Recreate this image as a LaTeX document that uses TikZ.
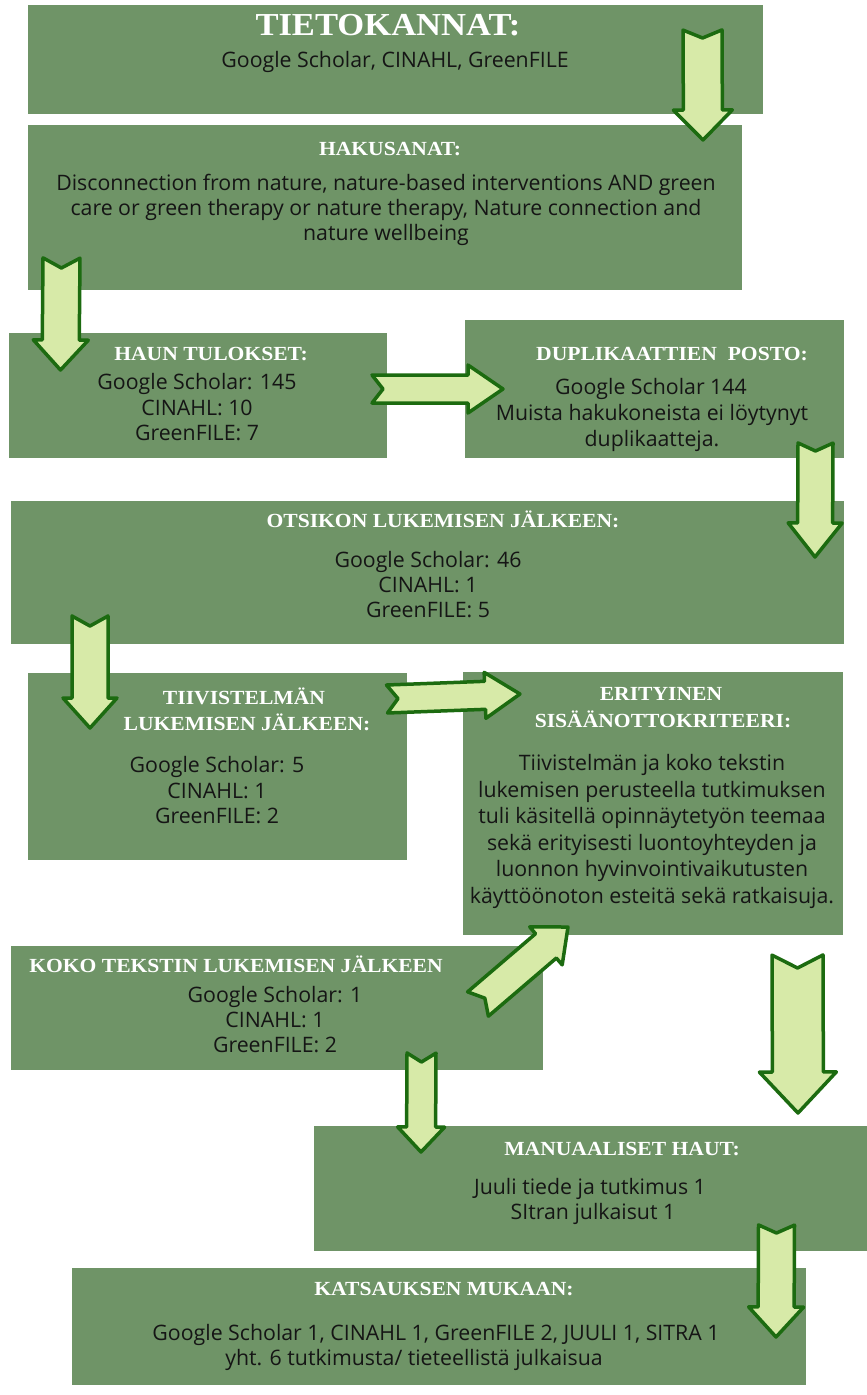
\documentclass[tikz,border=0pt]{standalone}
\usepackage{fontspec}
\setmainfont{Open Sans}
\newfontfamily\hfont{Liberation Serif}[FakeStretch=1.08]
\usetikzlibrary{calc}
\definecolor{boxgreen}{HTML}{6F9467}
\definecolor{arrowfill}{HTML}{D7EAA8}
\definecolor{arrowline}{HTML}{1C6B10}
\definecolor{bodytext}{HTML}{151515}
\tikzset{
  box/.style={fill=boxgreen, draw=none, inner sep=0pt, anchor=north west},
  hd/.style={text=white, font=\hfont\bfseries\fontsize{20}{26}\selectfont, inner sep=0pt, anchor=base},
  hdbig/.style={text=white, font=\hfont\bfseries\fontsize{32}{36}\selectfont, inner sep=0pt, anchor=base},
  bd/.style={text=bodytext, font=\fontsize{21.3}{25}\selectfont, inner sep=0pt, anchor=base},
  barrow/.style={fill=arrowfill, draw=arrowline, line width=3.5pt, line join=round}
}
% #1 tail, #2 tip, #3 shaft half width, #4 head half width, #5 head length, #6 notch depth
\newcommand\blockarrow[6]{%
  \path let \p1=($(#2)-(#1)$) in \pgfextra{%
    \pgfmathsetmacro\baA{atan2(\y1,\x1)}\pgfmathsetmacro\baL{veclen(\x1,\y1)}%
    \xdef\baang{\baA}\xdef\balen{\baL}};
  \begin{scope}[shift={(#1)}, rotate=\baang]
    \draw[barrow] (0pt,#3pt) -- (#6pt,0pt) -- (0pt,-#3pt) -- ({\balen pt-#5pt},-#3pt)
      -- ({\balen pt-#5pt},-#4pt) -- (\balen pt,0pt) -- ({\balen pt-#5pt},#4pt)
      -- ({\balen pt-#5pt},#3pt) -- cycle;
  \end{scope}}
\begin{document}
\begin{tikzpicture}[x=1pt,y=-1pt]
\useasboundingbox (0,0) rectangle (867,1395);
% boxes
\node[box, minimum width=735pt, minimum height=109pt] (tk) at (28,5) {};
\node[box, minimum width=714pt, minimum height=165pt] (hk) at (28,125) {};
\node[box, minimum width=378pt, minimum height=125pt] (ht) at (9,333) {};
\node[box, minimum width=379pt, minimum height=138pt] (dp) at (465,320) {};
\node[box, minimum width=833pt, minimum height=143pt] (ot) at (11,501) {};
\node[box, minimum width=379pt, minimum height=187pt] (ti) at (28,673) {};
\node[box, minimum width=380pt, minimum height=263pt] (er) at (463,672) {};
\node[box, minimum width=532pt, minimum height=124pt] (kk) at (11,946) {};
\node[box, minimum width=553pt, minimum height=125pt] (mn) at (314,1126) {};
\node[box, minimum width=734pt, minimum height=117pt] (ks) at (72,1268) {};
% texts
\node[hdbig] (tk-h) at (388,35) {TIETOKANNAT:};
\node[bd] (tk-1) at (395,67) {Google Scholar, CINAHL, GreenFILE};
\node[hd] (hk-h) at (390,155) {HAKUSANAT:};
\node[bd] (hk-1) at (386,190) {Disconnection from nature, nature-based interventions AND green};
\node[bd] (hk-2) at (386,215) {care or green therapy or nature therapy, Nature connection and};
\node[bd] (hk-3) at (386,240) {nature wellbeing};
\node[hd] (ht-h) at (211,360) {HAUN TULOKSET:};
\node[bd] (ht-1) at (197,389) {Google Scholar: 145};
\node[bd] (ht-2) at (197,415) {CINAHL: 10};
\node[bd] (ht-3) at (197,440) {GreenFILE: 7};
\node[hd] (dp-h) at (672,360) {DUPLIKAATTIEN\ \ POSTO:};
\node[bd] (dp-1) at (651,394) {Google Scholar 144};
\node[bd] (dp-2) at (652,420) {Muista hakukoneista ei löytynyt};
\node[bd] (dp-3) at (652,446) {duplikaatteja.};
\node[hd] (ot-h) at (443,527) {OTSIKON LUKEMISEN JÄLKEEN:};
\node[bd] (ot-1) at (428,567) {Google Scholar: 46};
\node[bd] (ot-2) at (428,592) {CINAHL: 1};
\node[bd] (ot-3) at (428,617) {GreenFILE: 5};
\node[hd] (ti-h1) at (244,704) {TIIVISTELMÄN};
\node[hd] (ti-h2) at (247,730) {LUKEMISEN JÄLKEEN:};
\node[bd] (ti-1) at (217,772) {Google Scholar: 5};
\node[bd] (ti-2) at (217,798) {CINAHL: 1};
\node[bd] (ti-3) at (217,823) {GreenFILE: 2};
\node[hd] (er-h1) at (661,700) {ERITYINEN};
\node[hd] (er-h2) at (663,727) {SISÄÄNOTTOKRITEERI:};
\node[bd] (er-1) at (652,770) {Tiivistelmän ja koko tekstin};
\node[bd] (er-2) at (652,797) {lukemisen perusteella tutkimuksen};
\node[bd] (er-3) at (652,823) {tuli käsitellä opinnäytetyön teemaa};
\node[bd] (er-4) at (652,850) {sekä erityisesti luontoyhteyden ja};
\node[bd] (er-5) at (652,876) {luonnon hyvinvointivaikutusten};
\node[bd] (er-6) at (652,903) {käyttöönoton esteitä sekä ratkaisuja.};
\node[hd] (kk-h) at (236,972) {KOKO TEKSTIN LUKEMISEN JÄLKEEN};
\node[bd] (kk-1) at (275,1002) {Google Scholar: 1};
\node[bd] (kk-2) at (275,1027) {CINAHL: 1};
\node[bd] (kk-3) at (275,1052) {GreenFILE: 2};
\node[hd] (mn-h) at (622,1155) {MANUAALISET HAUT:};
\node[bd] (mn-1) at (590,1194) {Juuli tiede ja tutkimus 1};
\node[bd] (mn-2) at (593,1219) {SItran julkaisut 1};
\node[hd] (ks-h) at (444,1295) {KATSAUKSEN MUKAAN:};
\node[bd] (ks-1) at (436,1340) {Google Scholar 1, CINAHL 1, GreenFILE 2, JUULI 1, SITRA 1};
\node[bd] (ks-2) at (414,1365) {yht. 6 tutkimusta/ tieteellistä julkaisua};
% arrow end points
\coordinate (a1s) at (702.5,30);  \coordinate (a1e) at (703,140);
\coordinate (a2s) at (61.5,258);  \coordinate (a2e) at (60.5,370);
\coordinate (a3s) at (372,389);   \coordinate (a3e) at (503,389);
\coordinate (a4s) at (815.5,443); \coordinate (a4e) at (815,557);
\coordinate (a5s) at (90,616);    \coordinate (a5e) at (90,728);
\coordinate (a6s) at (387,699);   \coordinate (a6e) at (520,694);
\coordinate (a7s) at (478,1004);  \coordinate (a7e) at (568,927);
\coordinate (a8s) at (797.5,955); \coordinate (a8e) at (798,1113);
\coordinate (a9s) at (421.5,1053);\coordinate (a9e) at (421,1152);
\coordinate (a10s) at (776.5,1225);\coordinate (a10e) at (776,1337);
\blockarrow{a1s}{a1e}{19.5}{29.5}{30}{8}
\blockarrow{a2s}{a2e}{18.5}{27.5}{30}{10}
\blockarrow{a3s}{a3e}{14}{24}{35}{11}
\blockarrow{a4s}{a4e}{17.5}{27}{34}{8}
\blockarrow{a5s}{a5e}{18}{27}{30}{10}
\blockarrow{a6s}{a6e}{14}{23}{35}{11}
\blockarrow{a7s}{a7e}{16}{25}{29}{9}
\blockarrow{a8s}{a8e}{25.5}{38.5}{41}{13}
\blockarrow{a9s}{a9e}{14.5}{23.5}{25}{9}
\blockarrow{a10s}{a10e}{18}{27.5}{30}{8}
\end{tikzpicture}
\end{document}
